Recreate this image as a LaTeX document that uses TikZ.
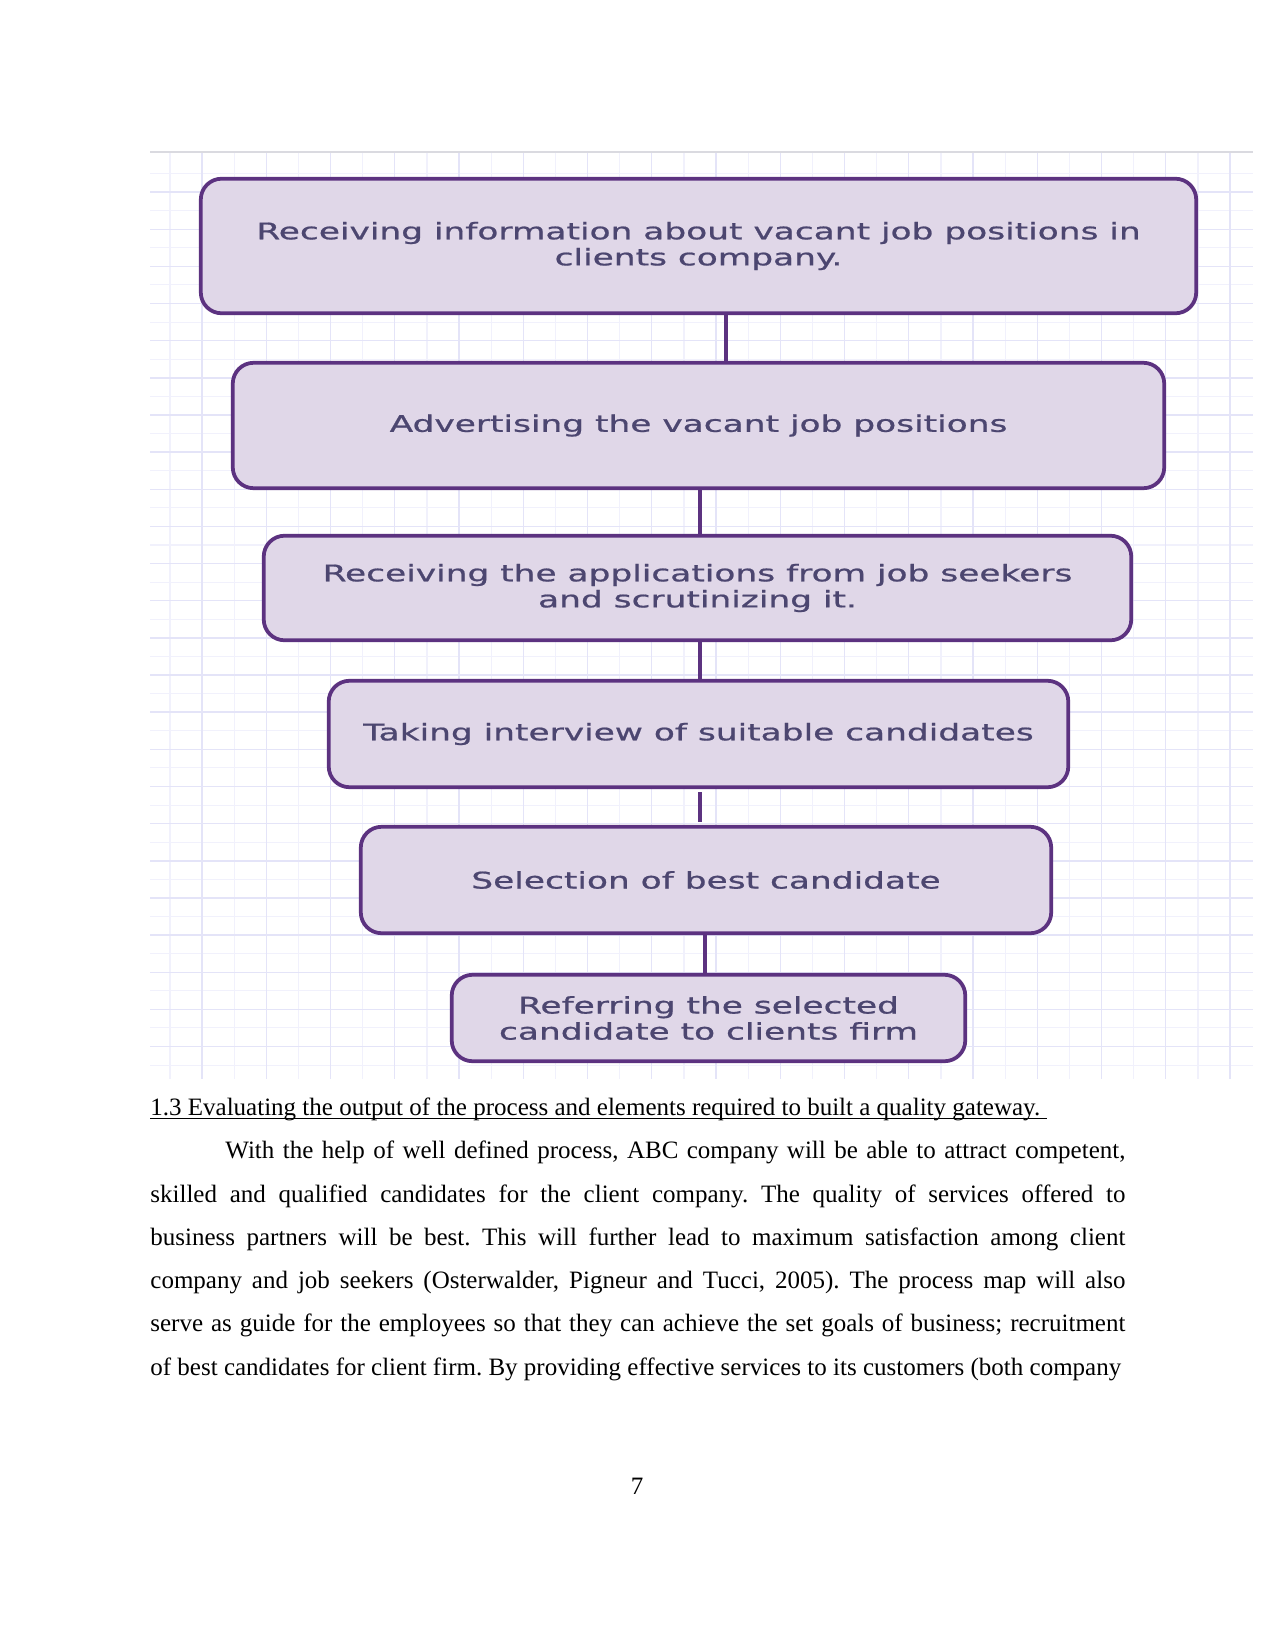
\documentclass[tikz,border=0pt]{standalone}
\usepackage{fontspec}
\setmainfont{Liberation Serif}
\newfontfamily\boxfont[FakeStretch=1.5,FakeBold=0.8]{DejaVu Sans}
\usetikzlibrary{calc}
\definecolor{RecPurple}{RGB}{92,50,128}
\definecolor{RecLilac}{RGB}{224,215,232}
\definecolor{RecInk}{RGB}{76,70,112}
\definecolor{RecGrid}{RGB}{228,228,248}
\definecolor{RecGridFaint}{RGB}{241,241,252}
\definecolor{RecEdge}{RGB}{218,218,224}
\tikzset{
  rec/box/.style={
    draw=RecPurple,
    line width=1.8pt,
    rounded corners=10pt,
    fill=RecLilac,
    align=center,
    text=RecInk,
    inner sep=0pt,
    font=\boxfont\fontsize{11}{12.5}\selectfont
  },
  rec/link/.style={line width=1.9pt, draw=RecPurple},
  rec/major/.style={draw=RecGrid, line width=0.7pt},
  rec/minor/.style={draw=RecGridFaint, line width=0.5pt},
  rec/body/.style={font=\fontsize{12}{20.78}\selectfont\frenchspacing, inner sep=0pt, text=black}
}

\begin{document}
\begin{tikzpicture}[x=0.48pt,y=-0.48pt]
  \useasboundingbox (0,0) rectangle (1275,1651);
  \fill[white] (0,0) rectangle (1275,1651);
  % grid paper behind the chart
  \foreach \gx in {0,...,16}
    \draw[rec/minor] ({170+64.25*\gx},153) -- ({170+64.25*\gx},1079);
  \foreach \gy in {-6,...,18}
    \draw[rec/minor] (150,{396.4+37.15*\gy}) -- (1253,{396.4+37.15*\gy});
  \foreach \gx in {0,...,16}
    \draw[rec/major] ({202+64.25*\gx},153) -- ({202+64.25*\gx},1079);
  \foreach \gy in {-6,...,17}
    \draw[rec/major] (150,{415+37.15*\gy}) -- (1253,{415+37.15*\gy});
  \draw[RecEdge, line width=1pt] (150,152) -- (1253,152);

  % process steps
  \node[rec/box,minimum width=477.8pt,minimum height=64.6pt] (recv) at (698.5,246) {Receiving information about vacant job positions in\\clients company.};
  \node[rec/box,minimum width=447.1pt,minimum height=60.2pt] (advert) at (698.5,425.5) {Advertising the vacant job positions};
  \node[rec/box,minimum width=416.4pt,minimum height=50.2pt] (apply) at (697.5,588) {Receiving the applications from job seekers\\and scrutinizing it.};
  \node[rec/box,minimum width=355pt,minimum height=51.1pt] (interview) at (698.5,734) {Taking interview of suitable candidates};
  \node[rec/box,minimum width=331.4pt,minimum height=51.1pt] (select) at (706,880) {Selection of best candidate};
  \node[rec/box,minimum width=246.5pt,minimum height=41.5pt] (refer) at (708.5,1018) {Referring the selected\\candidate to clients firm};

  \coordinate (c1) at (726,0);
  \coordinate (c2) at (700,0);
  \coordinate (c3) at (705,0);
  \draw[rec/link] (recv.south -| c1) -- (advert.north -| c1);
  \draw[rec/link] (advert.south -| c2) -- (apply.north -| c2);
  \draw[rec/link] (apply.south -| c2) -- (interview.north -| c2);
  \draw[rec/link,shorten <=1.5pt,shorten >=1.5pt] (interview.south -| c2) -- (select.north -| c2);
  \draw[rec/link] (select.south -| c3) -- (refer.north -| c3);

  % text below the figure
  \node[rec/body,anchor=base west] (head) at (150,1115.5) {1.3 Evaluating the output of the process and elements required to built a quality gateway.\ \mbox{}};
  \draw[line width=0.6pt] ([yshift=-1.5pt]head.base west) -- ([yshift=-1.5pt]head.base east);
  \node[rec/body,anchor=base west,text width=468pt,align=justify] (para) at (150,1158.8) {\parfillskip=0pt\hspace*{36pt}With the help of well defined process, ABC company will be able to attract competent,\linebreak
  skilled and qualified candidates for the client company. The quality of services offered to\linebreak
  business partners will be best. This will further lead to maximum satisfaction among client\linebreak
  company and job seekers (Osterwalder, Pigneur and Tucci, 2005). The process map will also\linebreak
  serve as guide for the employees so that they can achieve the set goals of business; recruitment\linebreak
  of best candidates for client firm. By providing effective services to its customers (both company};
  \node[rec/body,anchor=base] (pgno) at (637,1494) {7};
\end{tikzpicture}
\end{document}
